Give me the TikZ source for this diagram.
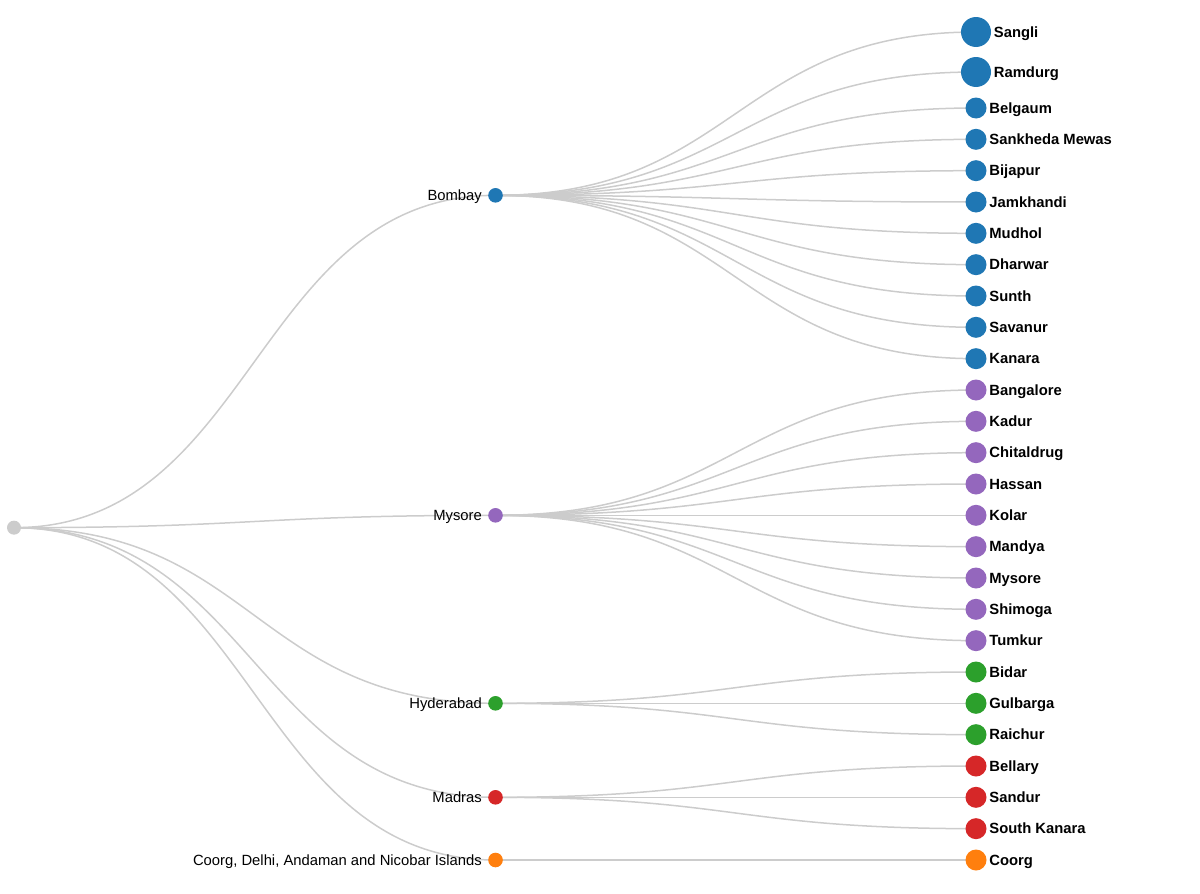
\documentclass[tikz,border=0pt]{standalone}
\usepackage{fontspec}
\setmainfont{Liberation Sans}
\pgfdeclarelayer{bg}
\pgfsetlayers{bg,main}
\definecolor{cblue}{HTML}{1F77B4}
\definecolor{cpurple}{HTML}{9467BD}
\definecolor{cgreen}{HTML}{2CA02C}
\definecolor{cred}{HTML}{D62728}
\definecolor{corange}{HTML}{FF7F0E}
\definecolor{croot}{HTML}{CCCCCC}
\definecolor{clink}{HTML}{CCCCCC}
\tikzset{
  dot/.style={circle, inner sep=0pt, draw=none},
  link/.style={draw=clink, line width=1.5pt},
  leaflbl/.style={font=\fontsize{14.8}{17}\selectfont\bfseries, inner sep=0pt, text height=13.5pt, text depth=3.2pt},
  midlbl/.style={font=\fontsize{14.8}{17}\selectfont, inner sep=0pt, text height=13.5pt, text depth=3.2pt},
}
\newcommand\lnk[3]{\begin{pgfonlayer}{bg}\draw[link] (#1.center) .. controls (#1.center -| #3) and (#2.center -| #3) .. (#2.center);\end{pgfonlayer}}
\newcommand\leaf[6]{%
  \node[dot, fill=#4, minimum size=#6pt, label={[leaflbl, label distance=2.5pt]right:#3}] (#1) at (976,#2) {};
  \lnk{#5}{#1}{m2}}
\begin{document}
\begin{tikzpicture}[x=1pt,y=-1pt]
\useasboundingbox (0,0) rectangle (1200,894);
\coordinate (m1) at (254.5,0);
\coordinate (m2) at (735.5,0);
\node[dot, fill=croot, minimum size=14pt] (root) at (14,527.67) {};
\node[dot, fill=cblue, minimum size=14.6pt, label={[midlbl, label distance=6pt]left:Bombay}] (bombay) at (495.5,195.33) {};
\node[dot, fill=cpurple, minimum size=14.6pt, label={[midlbl, label distance=6pt]left:Mysore}] (mysore) at (495.5,515.33) {};
\node[dot, fill=cgreen, minimum size=14.6pt, label={[midlbl, label distance=6pt]left:Hyderabad}] (hyderabad) at (495.5,703.33) {};
\node[dot, fill=cred, minimum size=14.6pt, label={[midlbl, label distance=6pt]left:Madras}] (madras) at (495.5,797.33) {};
\node[dot, fill=corange, minimum size=14.6pt, label={[midlbl, label distance=6pt]left:{Coorg, Delhi, Andaman and Nicobar Islands}}] (coorgp) at (495.5,860) {};
\lnk{root}{bombay}{m1}
\lnk{root}{mysore}{m1}
\lnk{root}{hyderabad}{m1}
\lnk{root}{madras}{m1}
\lnk{root}{coorgp}{m1}
\leaf{sangli}{32}{Sangli}{cblue}{bombay}{30}
\leaf{ramdurg}{72}{Ramdurg}{cblue}{bombay}{30}
\leaf{belgaum}{108}{Belgaum}{cblue}{bombay}{21}
\leaf{sankheda}{139.33}{Sankheda Mewas}{cblue}{bombay}{21}
\leaf{bijapur}{170.67}{Bijapur}{cblue}{bombay}{21}
\leaf{jamkhandi}{202}{Jamkhandi}{cblue}{bombay}{21}
\leaf{mudhol}{233.33}{Mudhol}{cblue}{bombay}{21}
\leaf{dharwar}{264.67}{Dharwar}{cblue}{bombay}{21}
\leaf{sunth}{296}{Sunth}{cblue}{bombay}{21}
\leaf{savanur}{327.33}{Savanur}{cblue}{bombay}{21}
\leaf{kanara}{358.67}{Kanara}{cblue}{bombay}{21}
\leaf{bangalore}{390}{Bangalore}{cpurple}{mysore}{21}
\leaf{kadur}{421.33}{Kadur}{cpurple}{mysore}{21}
\leaf{chitaldrug}{452.67}{Chitaldrug}{cpurple}{mysore}{21}
\leaf{hassan}{484}{Hassan}{cpurple}{mysore}{21}
\leaf{kolar}{515.33}{Kolar}{cpurple}{mysore}{21}
\leaf{mandya}{546.67}{Mandya}{cpurple}{mysore}{21}
\leaf{mysorel}{578}{Mysore}{cpurple}{mysore}{21}
\leaf{shimoga}{609.33}{Shimoga}{cpurple}{mysore}{21}
\leaf{tumkur}{640.67}{Tumkur}{cpurple}{mysore}{21}
\leaf{bidar}{672}{Bidar}{cgreen}{hyderabad}{21}
\leaf{gulbarga}{703.33}{Gulbarga}{cgreen}{hyderabad}{21}
\leaf{raichur}{734.67}{Raichur}{cgreen}{hyderabad}{21}
\leaf{bellary}{766}{Bellary}{cred}{madras}{21}
\leaf{sandur}{797.33}{Sandur}{cred}{madras}{21}
\leaf{southkanara}{828.67}{South Kanara}{cred}{madras}{21}
\leaf{coorg}{860}{Coorg}{corange}{coorgp}{21}
\end{tikzpicture}
\end{document}
